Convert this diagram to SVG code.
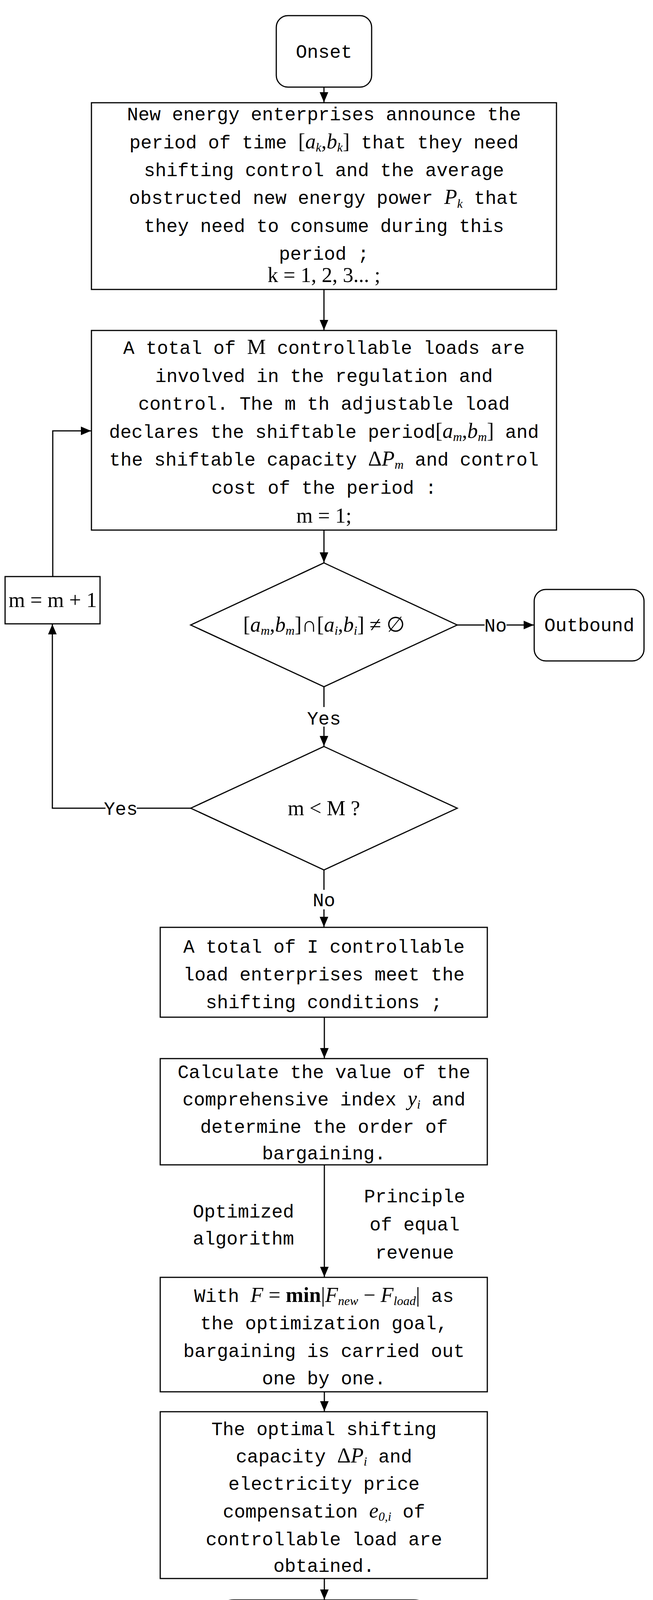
<svg xmlns="http://www.w3.org/2000/svg" width="1671" height="4406" viewBox="0 0 1671 4406">
<style>
.s{fill:#fff;stroke:#000;stroke-width:3}
.t{font-family:"Liberation Mono",monospace;font-size:48px;text-anchor:middle;fill:#000}
.m{font-family:"Liberation Serif",serif;font-size:54px;fill:#000}
.i{font-style:italic}
.sub{font-size:32px;font-style:italic}
.c{fill:none;stroke:#000;stroke-width:3}
</style>
<defs><marker id="a" markerWidth="26" markerHeight="22" refX="26" refY="11" orient="auto" markerUnits="userSpaceOnUse" viewBox="0 0 26 22"><path d="M0,0L26,11L0,22z" fill="#000"/></marker></defs>
<rect width="1671" height="4406" fill="#fff"/>
<g id="connectors">
<path class="c" d="M829,223V262" marker-end="url(#a)"/>
<path class="c" d="M829,741V845" marker-end="url(#a)"/>
<path class="c" d="M829,1357V1440" marker-end="url(#a)"/>
<path class="c" d="M1170,1600H1366" marker-end="url(#a)"/>
<path class="c" d="M829,1758V1910" marker-end="url(#a)"/>
<path class="c" d="M488,2069H134V1598" marker-end="url(#a)"/>
<path class="c" d="M135,1476V1103H233" marker-end="url(#a)"/>
<path class="c" d="M829,2227V2373" marker-end="url(#a)"/>
<path class="c" d="M830,2604V2709" marker-end="url(#a)"/>
<path class="c" d="M830,2982V3269" marker-end="url(#a)"/>
<path class="c" d="M830,3563V3613" marker-end="url(#a)"/>
<path class="c" d="M830,4041V4095" marker-end="url(#a)"/>
<rect x="1240" y="1575" width="56" height="50" fill="#fff"/>
<text class="t" x="1268" y="1617">No</text>
<rect x="790" y="1810" width="80" height="50" fill="#fff"/>
<text class="t" x="829" y="1855">Yes</text>
<rect x="270" y="2044" width="80" height="50" fill="#fff"/>
<text class="t" x="309" y="2086">Yes</text>
<rect x="800" y="2278" width="56" height="50" fill="#fff"/>
<text class="t" x="829" y="2320">No</text>
<text class="t" x="623" y="3117">Optimized</text>
<text class="t" x="623" y="3186">algorithm</text>
<text class="t" x="1061" y="3078">Principle</text>
<text class="t" x="1061" y="3150">of equal</text>
<text class="t" x="1061" y="3222">revenue</text>
</g>
<g id="onset"><rect class="s" x="707" y="40" width="244" height="183" rx="30"/><text class="t" x="829" y="148">Onset</text></g>
<g id="box1"><rect class="s" x="234" y="263" width="1190" height="478"/>
<text class="t" x="829" y="308">New energy enterprises announce the</text>
<text class="t" x="829" y="380">period of time <tspan class="m">[<tspan class="i">a</tspan><tspan class="sub" dy="8">k</tspan><tspan dy="-8">,</tspan><tspan class="i">b</tspan><tspan class="sub" dy="8">k</tspan><tspan dy="-8">]</tspan></tspan> that they need</text>
<text class="t" x="829" y="451">shifting control and the average</text>
<text class="t" x="829" y="522">obstructed new energy power <tspan class="m i" font-size="60">P</tspan><tspan class="m sub" dy="10">k</tspan><tspan dy="-10"> that</tspan></text>
<text class="t" x="829" y="594">they need to consume during this</text>
<text class="t" x="829" y="665">period ;</text>
<text class="m" x="829" y="722" text-anchor="middle">k = 1, 2, 3...  ;</text>
</g>
<g id="box2"><rect class="s" x="234" y="846" width="1190" height="511"/>
<text class="t" x="829" y="906">A total of <tspan class="m">M</tspan> controllable loads are</text>
<text class="t" x="829" y="978">involved in the regulation and</text>
<text class="t" x="829" y="1049">control. The m th adjustable load</text>
<text class="t" x="829" y="1121">declares the shiftable period<tspan class="m">[<tspan class="i">a</tspan><tspan class="sub" dy="8">m</tspan><tspan dy="-8">,</tspan><tspan class="i">b</tspan><tspan class="sub" dy="8">m</tspan><tspan dy="-8">]</tspan></tspan> and</text>
<text class="t" x="829" y="1192">the shiftable capacity <tspan class="m">Δ<tspan class="i">P</tspan><tspan class="sub" dy="8">m</tspan></tspan><tspan dy="-8"> and control</tspan></text>
<text class="t" x="829" y="1264">cost of the period :</text>
<text class="m" x="829" y="1338" text-anchor="middle">m = 1;</text>
</g>
<g id="d1"><path class="s" d="M829,1441L1170,1600L829,1758L488,1600z"/>
<text class="m" x="829" y="1617" text-anchor="middle">[<tspan class="i">a</tspan><tspan class="sub" dy="8">m</tspan><tspan dy="-8">,</tspan><tspan class="i">b</tspan><tspan class="sub" dy="8">m</tspan><tspan dy="-8">]∩[</tspan><tspan class="i">a</tspan><tspan class="sub" dy="8">i</tspan><tspan dy="-8">,</tspan><tspan class="i">b</tspan><tspan class="sub" dy="8">i</tspan><tspan dy="-8">] ≠ ∅</tspan></text>
</g>
<g id="outbound"><rect class="s" x="1367" y="1509" width="281" height="183" rx="30"/><text class="t" x="1508" y="1616">Outbound</text></g>
<g id="inc"><rect class="s" x="13" y="1476" width="243" height="121"/><text class="m" x="135" y="1554" text-anchor="middle">m = m + 1</text></g>
<g id="d2"><path class="s" d="M829,1911L1170,2069L829,2227L488,2069z"/><text class="m" x="829" y="2087" text-anchor="middle">m &lt; M ?</text></g>
<g id="box3"><rect class="s" x="410" y="2374" width="837" height="230"/>
<text class="t" x="829" y="2439">A total of I controllable</text>
<text class="t" x="829" y="2510">load enterprises meet the</text>
<text class="t" x="829" y="2581">shifting conditions ;</text></g>
<g id="box4"><rect class="s" x="410" y="2710" width="837" height="272"/>
<text class="t" x="829" y="2760">Calculate the value of the</text>
<text class="t" x="829" y="2830">comprehensive index <tspan class="m i">y</tspan><tspan class="m sub" dy="8">i</tspan><tspan dy="-8"> and</tspan></text>
<text class="t" x="829" y="2900">determine the order of</text>
<text class="t" x="829" y="2968">bargaining.</text></g>
<g id="box5"><rect class="s" x="410" y="3270" width="837" height="293"/>
<text class="t" x="829" y="3333">With <tspan class="m"><tspan class="i">F</tspan> = <tspan font-weight="bold">min</tspan>|<tspan class="i">F</tspan><tspan class="sub" dy="8">new</tspan><tspan dy="-8"> − </tspan><tspan class="i">F</tspan><tspan class="sub" dy="8">load</tspan><tspan dy="-8">|</tspan></tspan> as</text>
<text class="t" x="829" y="3403">the optimization goal,</text>
<text class="t" x="829" y="3474">bargaining is carried out</text>
<text class="t" x="829" y="3544">one by one.</text></g>
<g id="box6"><rect class="s" x="410" y="3614" width="837" height="427"/>
<text class="t" x="829" y="3674">The optimal shifting</text>
<text class="t" x="829" y="3744">capacity <tspan class="m">Δ<tspan class="i">P</tspan><tspan class="sub" dy="8">i</tspan></tspan><tspan dy="-8"> and</tspan></text>
<text class="t" x="829" y="3814">electricity price</text>
<text class="t" x="829" y="3885">compensation <tspan class="m i">e</tspan><tspan class="m sub" dy="8">0,i</tspan><tspan dy="-8"> of</tspan></text>
<text class="t" x="829" y="3956">controllable load are</text>
<text class="t" x="829" y="4024">obtained.</text></g>
<g id="end"><rect class="s" x="538" y="4096" width="581" height="286" rx="60"/>
<text class="t" x="829" y="4155">Orderly utilize</text>
<text class="t" x="829" y="4226">controllable loads</text>
<text class="t" x="829" y="4297">According to the</text>
<text class="t" x="829" y="4366">bargaining results</text></g>
</svg>
